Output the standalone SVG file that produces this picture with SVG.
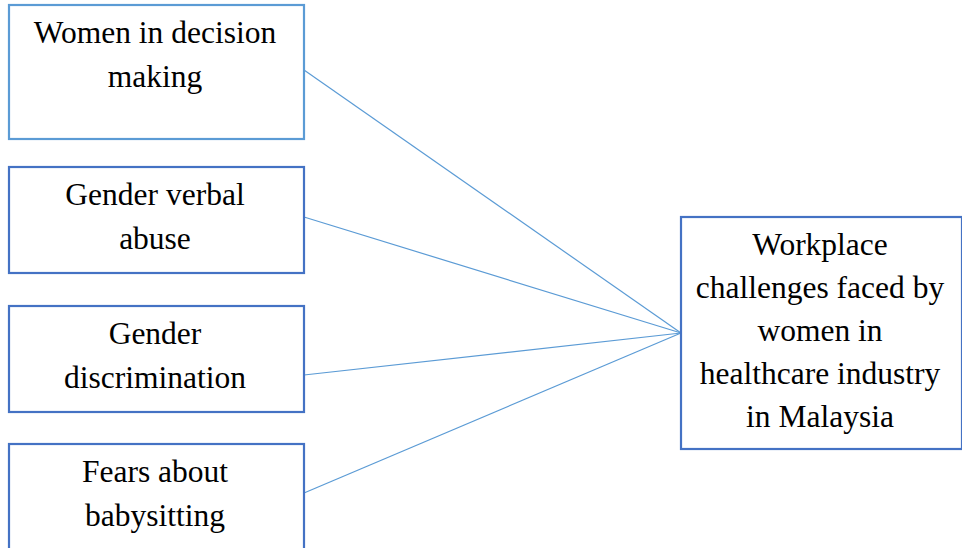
<svg xmlns="http://www.w3.org/2000/svg" width="962" height="548" viewBox="0 0 962 548">
<style>
.t{font-family:"Liberation Serif","Times New Roman",serif;font-size:31.5px;fill:#000;text-anchor:middle}
.b1{fill:#fff;stroke:#5b9bd5;stroke-width:2.2}
.b{fill:#fff;stroke:#4472c4;stroke-width:2.2}
.c{stroke:#5b9bd5;stroke-width:1.2;fill:none}
</style>
<rect width="962" height="548" fill="#fff"/>
<g id="connectors">
<line class="c" x1="304" y1="70" x2="681" y2="333"/>
<line class="c" x1="304" y1="217" x2="681" y2="333"/>
<line class="c" x1="304" y1="375" x2="681" y2="333"/>
<line class="c" x1="304" y1="493" x2="681" y2="333"/>
</g>
<g id="n1">
<rect class="b1" x="9" y="5" width="295" height="134"/>
<text class="t" x="155" y="43">Women in decision</text>
<text class="t" x="155" y="87">making</text>
</g>
<g id="n2">
<rect class="b" x="9" y="167" width="295" height="106"/>
<text class="t" x="155" y="205">Gender verbal</text>
<text class="t" x="155" y="249">abuse</text>
</g>
<g id="n3">
<rect class="b" x="9" y="306" width="295" height="106"/>
<text class="t" x="155" y="344">Gender</text>
<text class="t" x="155" y="388">discrimination</text>
</g>
<g id="n4">
<rect class="b" x="9" y="444" width="295" height="110"/>
<text class="t" x="155" y="482">Fears about</text>
<text class="t" x="155" y="526">babysitting</text>
</g>
<g id="target">
<rect class="b" x="681" y="217" width="281" height="232"/>
<text class="t" x="820" y="255">Workplace</text>
<text class="t" x="820" y="298">challenges faced by</text>
<text class="t" x="820" y="341">women in</text>
<text class="t" x="820" y="384">healthcare industry</text>
<text class="t" x="820" y="427">in Malaysia</text>
</g>
</svg>
